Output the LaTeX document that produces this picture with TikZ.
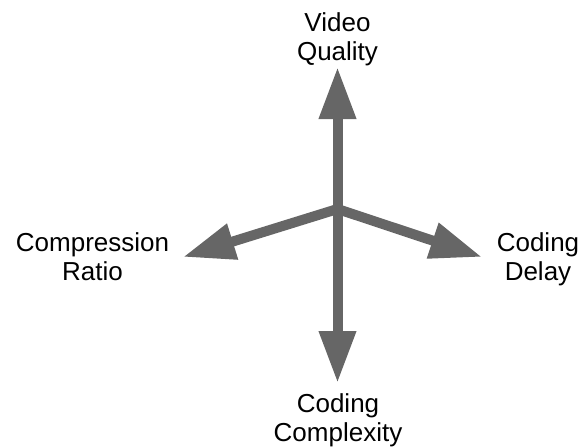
\documentclass[tikz,border=0pt]{standalone}
\usepackage{fontspec}
\setmainfont{Liberation Sans}
\usetikzlibrary{arrows.meta}
\definecolor{axisgray}{HTML}{666666}
\tikzset{
  axis/.style={draw=axisgray, line width=10pt,
    -{Triangle[length=52pt, width=35pt]}},
  lbl/.style={align=center, inner sep=0pt, anchor=base,
    font=\fontsize{26pt}{29pt}\selectfont}
}
\begin{document}
\begin{tikzpicture}[x=1pt, y=-1pt]
  \useasboundingbox (0,0) rectangle (582,447);
  % hub and axis end points
  \coordinate (hub) at (337.5,209);
  \coordinate (up) at (337.5,67);
  \coordinate (down) at (337.5,383);
  \coordinate (left) at (183,257);
  \coordinate (right) at (482,257);
  % axis arrows
  \draw[axis] (hub) -- (up);
  \draw[axis] (hub) -- (down);
  \draw[axis] (hub) -- (left);
  \draw[axis] (hub) -- (right);
  % axis labels (anchored at the baseline of their last line)
  \node[lbl] (quality) at (337.5,60.7) {Video\\Quality};
  \node[lbl] (ratio) at (92.5,280.7) {Compression\\Ratio};
  \node[lbl] (delay) at (538,280.7) {Coding\\Delay};
  \node[lbl] (complexity) at (338,441) {Coding\\Complexity};
\end{tikzpicture}
\end{document}
